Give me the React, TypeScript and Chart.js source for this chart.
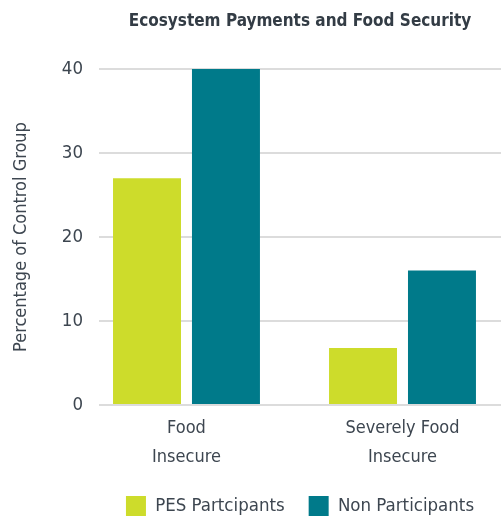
import { useEffect, useRef } from 'react';
import { Chart, registerables } from 'chart.js';

Chart.register(...registerables);

const categories: string[][] = [['Food', 'Insecure'], ['Severely Food', 'Insecure']];
const seriesNames = ['PES Partcipants', 'Non Participants'];
const pesValues = [27, 6.8];
const nonValues = [40, 16];
const yTicks = [0, 10, 20, 30, 40];

const FONT = "'DejaVu Sans Condensed', 'Roboto Condensed', Roboto, sans-serif";
const TEXT = '#3d4650';

export default function App() {
  const ref = useRef<HTMLCanvasElement | null>(null);

  useEffect(() => {
    if (!ref.current) return;
    const chart = new Chart(ref.current, {
      type: 'bar',
      data: {
        datasets: [
          {
            label: seriesNames[0],
            data: pesValues.map((v, i) => ({ x: i, y: v })),
            backgroundColor: '#cddc2b',
            categoryPercentage: 0.731,
            barPercentage: 0.861,
          },
          {
            label: seriesNames[1],
            data: nonValues.map((v, i) => ({ x: i, y: v })),
            backgroundColor: '#007a8a',
            categoryPercentage: 0.731,
            barPercentage: 0.861,
          },
        ],
      },
      options: {
        responsive: false,
        animation: false,
        layout: { padding: { left: 0, right: 0, top: 0, bottom: -5 } },
        plugins: {
          tooltip: { enabled: false },
          title: {
            display: true,
            fullSize: false,
            text: 'Ecosystem Payments and Food Security',
            color: '#333c45',
            font: { family: FONT, size: 17, weight: 'bold' },
            padding: { top: 11, bottom: 37.6 },
          },
          legend: {
            position: 'bottom',
            fullSize: false,
            labels: {
              boxWidth: 20,
              boxHeight: 20,
              padding: 24,
              color: TEXT,
              font: { family: FONT, size: 18.5 },
            },
          },
        },
        scales: {
          x: {
            type: 'linear',
            bounds: 'data',
            offset: false,
            min: -0.405,
            max: 1.456,
            grid: { display: false, offset: false },
            border: { display: false },
            afterBuildTicks: (scale: any) => {
              scale.ticks = categories.map((_, i) => ({ value: i }));
            },
            afterFit: (scale: any) => {
              scale.height = 67;
            },
            ticks: {
              includeBounds: false,
              autoSkip: false,
              maxRotation: 0,
              padding: 1,
              color: TEXT,
              font: { family: FONT, size: 18, lineHeight: 1.6 },
              callback: (v: any) => categories[v as number] ?? '',
            },
          },
          y: {
            min: 0,
            max: 40,
            afterBuildTicks: (scale: any) => {
              scale.ticks = yTicks.map((v) => ({ value: v }));
            },
            afterFit: (scale: any) => {
              scale.width = 99;
            },
            grid: { color: '#dcdcdc', lineWidth: 2, drawTicks: false },
            border: { display: false },
            ticks: {
              padding: 16,
              color: TEXT,
              font: { family: FONT, size: 18.5 },
            },
            title: {
              display: true,
              text: 'Percentage of Control Group',
              color: TEXT,
              font: { family: FONT, size: 18 },
              padding: { top: 11, bottom: 0 },
            },
          },
        },
      },
    });
    return () => chart.destroy();
  }, []);

  return (
    <div style={{ position: 'fixed', left: 0, top: 0, width: 501, height: 521 }}>
      <canvas ref={ref} width={501} height={521} />
    </div>
  );
}
